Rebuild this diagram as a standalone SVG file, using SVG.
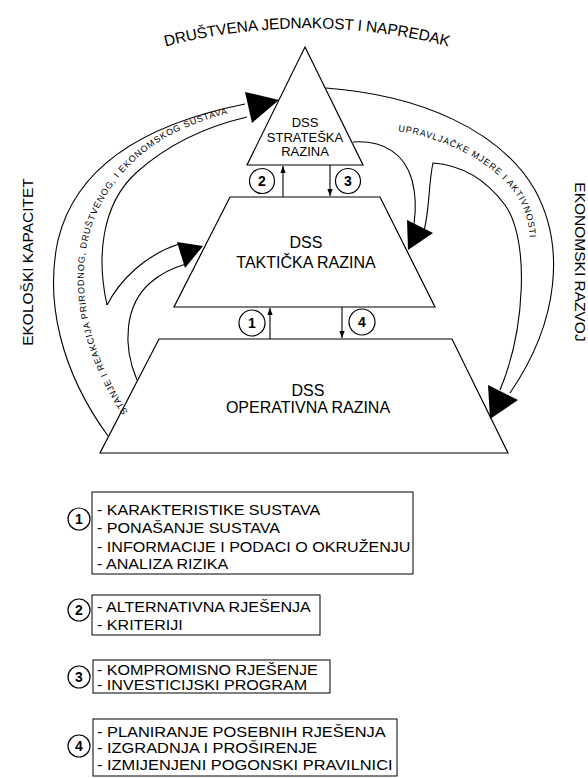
<svg xmlns="http://www.w3.org/2000/svg" width="588" height="778" viewBox="0 0 588 778">
<style>
.ln{fill:none;stroke:#000;stroke-width:1.1}
.shape{fill:#fff;stroke:#000;stroke-width:1.2}
.t{font-family:"Liberation Sans",Arial,sans-serif;fill:#000}
.lvl{font-size:16px;text-anchor:middle}
.sm{font-size:13px;text-anchor:middle}
.num{font-size:14px;font-weight:bold;text-anchor:middle}
.lg{font-size:14.5px}
.lg3{font-size:14px}
.curv{font-size:9px}
.big{font-size:15.5px}
.head{fill:#000;stroke:none}
.circ{fill:#fff;stroke:#000;stroke-width:1.2}
.box{fill:#fff;stroke:#000;stroke-width:1}
</style>
<defs>
<marker id="ah" viewBox="0 0 8 8" refX="8" refY="4" markerWidth="7" markerHeight="7" orient="auto" markerUnits="userSpaceOnUse">
<path d="M0,1 L8,4 L0,7 z" fill="#000"/>
</marker>
<path id="pTop" d="M100,68 A560,560 0 0 1 514,68"/>
<path id="pLeft" d="M128,412 C100,370 82,320 84,270 C86,210 120,165 165,138 C190,124 215,116 240,111"/>
<path id="pRight" d="M398,131 C455,140 505,170 522,205 C528,218 530,230 530,245"/>
</defs>
<rect width="588" height="778" fill="#fff"/>

<g id="outer-labels" class="t">
<text class="big"><textPath href="#pTop" startOffset="50%" text-anchor="middle" textLength="286" lengthAdjust="spacing">DRUŠTVENA JEDNAKOST I NAPREDAK</textPath></text>
<text class="big" transform="translate(33,262) rotate(-90)" text-anchor="middle">EKOLOŠKI KAPACITET</text>
<text class="big" transform="translate(575,262) rotate(90)" text-anchor="middle">EKONOMSKI RAZVOJ</text>
</g>

<g id="level-operational">
<polygon class="shape" points="159,339 452,339 508,453 100,453"/>
<text class="t lvl" x="308" y="396">DSS</text>
<text class="t lvl" x="308" y="413">OPERATIVNA RAZINA</text>
</g>
<g id="level-tactical">
<polygon class="shape" points="230,197 380,197 435,307 174,307"/>
<text class="t lvl" x="306" y="248">DSS</text>
<text class="t lvl" x="306" y="268">TAKTIČKA RAZINA</text>
</g>
<g id="level-strategic">
<polygon class="shape" points="305,47 363,165 247,165"/>
<text class="t sm" x="305" y="127">DSS</text>
<text class="t sm" x="305" y="142">STRATEŠKA</text>
<text class="t sm" x="305" y="156">RAZINA</text>
</g>

<g id="connectors">
<path class="ln" d="M108,436 C60,370 45,300 58,240 C75,170 140,125 245,104"/>
<path class="ln" d="M107,305 C97,260 100,205 137,172 C165,147 200,128 247,117"/>
<path class="ln" d="M107,305 C120,280 145,255 179,244"/>
<path class="ln" d="M137,380 C122,345 125,305 150,283 C160,274 172,268 186,264"/>
<polygon class="head" points="245,92 279,100 252,123"/>
<polygon class="head" points="177,242 203,246 185,268"/>
<text class="t curv"><textPath href="#pLeft" textLength="380" lengthAdjust="spacing">STANJE I REAKCIJA PRIRODNOG, DRUŠTVENOG, I EKONOMSKOG SUSTAVA</textPath></text>
<path class="ln" d="M326,88 C420,95 500,130 535,190 C565,245 560,320 510,393"/>
<path class="ln" d="M500,390 C525,330 530,240 505,205 C485,178 460,165 433,163 C428,185 430,215 422,238"/>
<path class="ln" d="M353,142 C385,140 405,155 412,180 C416,195 416,210 414,224"/>
<polygon class="head" points="407,220 433,233 408,250"/>
<polygon class="head" points="488,385 518,400 490,419"/>
<text class="t curv"><textPath href="#pRight" textLength="183" lengthAdjust="spacing">UPRAVLJAČKE MJERE I AKTIVNOSTI</textPath></text>
<line class="ln" x1="283" y1="197" x2="283" y2="166" marker-end="url(#ah)"/>
<line class="ln" x1="330" y1="165" x2="330" y2="196" marker-end="url(#ah)"/>
<line class="ln" x1="270" y1="339" x2="270" y2="308" marker-end="url(#ah)"/>
<line class="ln" x1="342" y1="307" x2="342" y2="338" marker-end="url(#ah)"/>
</g>

<g id="marker-2"><circle class="circ" cx="262" cy="181" r="12.5"/><text class="t num" x="262" y="186">2</text></g>
<g id="marker-3"><circle class="circ" cx="348" cy="181" r="12.5"/><text class="t num" x="348" y="186">3</text></g>
<g id="marker-1"><circle class="circ" cx="252" cy="323" r="13"/><text class="t num" x="252" y="328">1</text></g>
<g id="marker-4"><circle class="circ" cx="362" cy="322" r="13"/><text class="t num" x="362" y="327">4</text></g>

<g id="legend-1">
<circle class="circ" cx="79" cy="519" r="11"/><text class="t num" x="79" y="524">1</text>
<rect class="box" x="92" y="492" width="321" height="82"/>
<g transform="translate(97,0) scale(1.11,1)">
<text class="t lg" x="0" y="515">- KARAKTERISTIKE SUSTAVA</text>
<text class="t lg" x="0" y="533">- PONAŠANJE SUSTAVA</text>
<text class="t lg" x="0" y="552">- INFORMACIJE I PODACI O OKRUŽENJU</text>
<text class="t lg" x="0" y="569">- ANALIZA RIZIKA</text>
</g>
</g>
<g id="legend-2">
<circle class="circ" cx="79" cy="610" r="11"/><text class="t num" x="79" y="615">2</text>
<rect class="box" x="92" y="595" width="228" height="40"/>
<g transform="translate(97,0) scale(1.11,1)">
<text class="t lg" x="0" y="612">- ALTERNATIVNA RJEŠENJA</text>
<text class="t lg" x="0" y="630">- KRITERIJI</text>
</g>
</g>
<g id="legend-3">
<circle class="circ" cx="79" cy="677" r="11"/><text class="t num" x="79" y="682">3</text>
<rect class="box" x="93" y="660" width="237" height="33"/>
<g transform="translate(97,0) scale(1.15,1)">
<text class="t lg3" x="0" y="675">- KOMPROMISNO RJEŠENJE</text>
<text class="t lg3" x="0" y="690.5">- INVESTICIJSKI PROGRAM</text>
</g>
</g>
<g id="legend-4">
<circle class="circ" cx="79" cy="746" r="11"/><text class="t num" x="79" y="751">4</text>
<rect class="box" x="93" y="719" width="304" height="57"/>
<g transform="translate(97,0) scale(1.13,1)">
<text class="t lg" x="0" y="737">- PLANIRANJE POSEBNIH RJEŠENJA</text>
<text class="t lg" x="0" y="753">- IZGRADNJA I PROŠIRENJE</text>
<text class="t lg" x="0" y="770">- IZMIJENJENI POGONSKI PRAVILNICI</text>
</g>
</g>
</svg>
